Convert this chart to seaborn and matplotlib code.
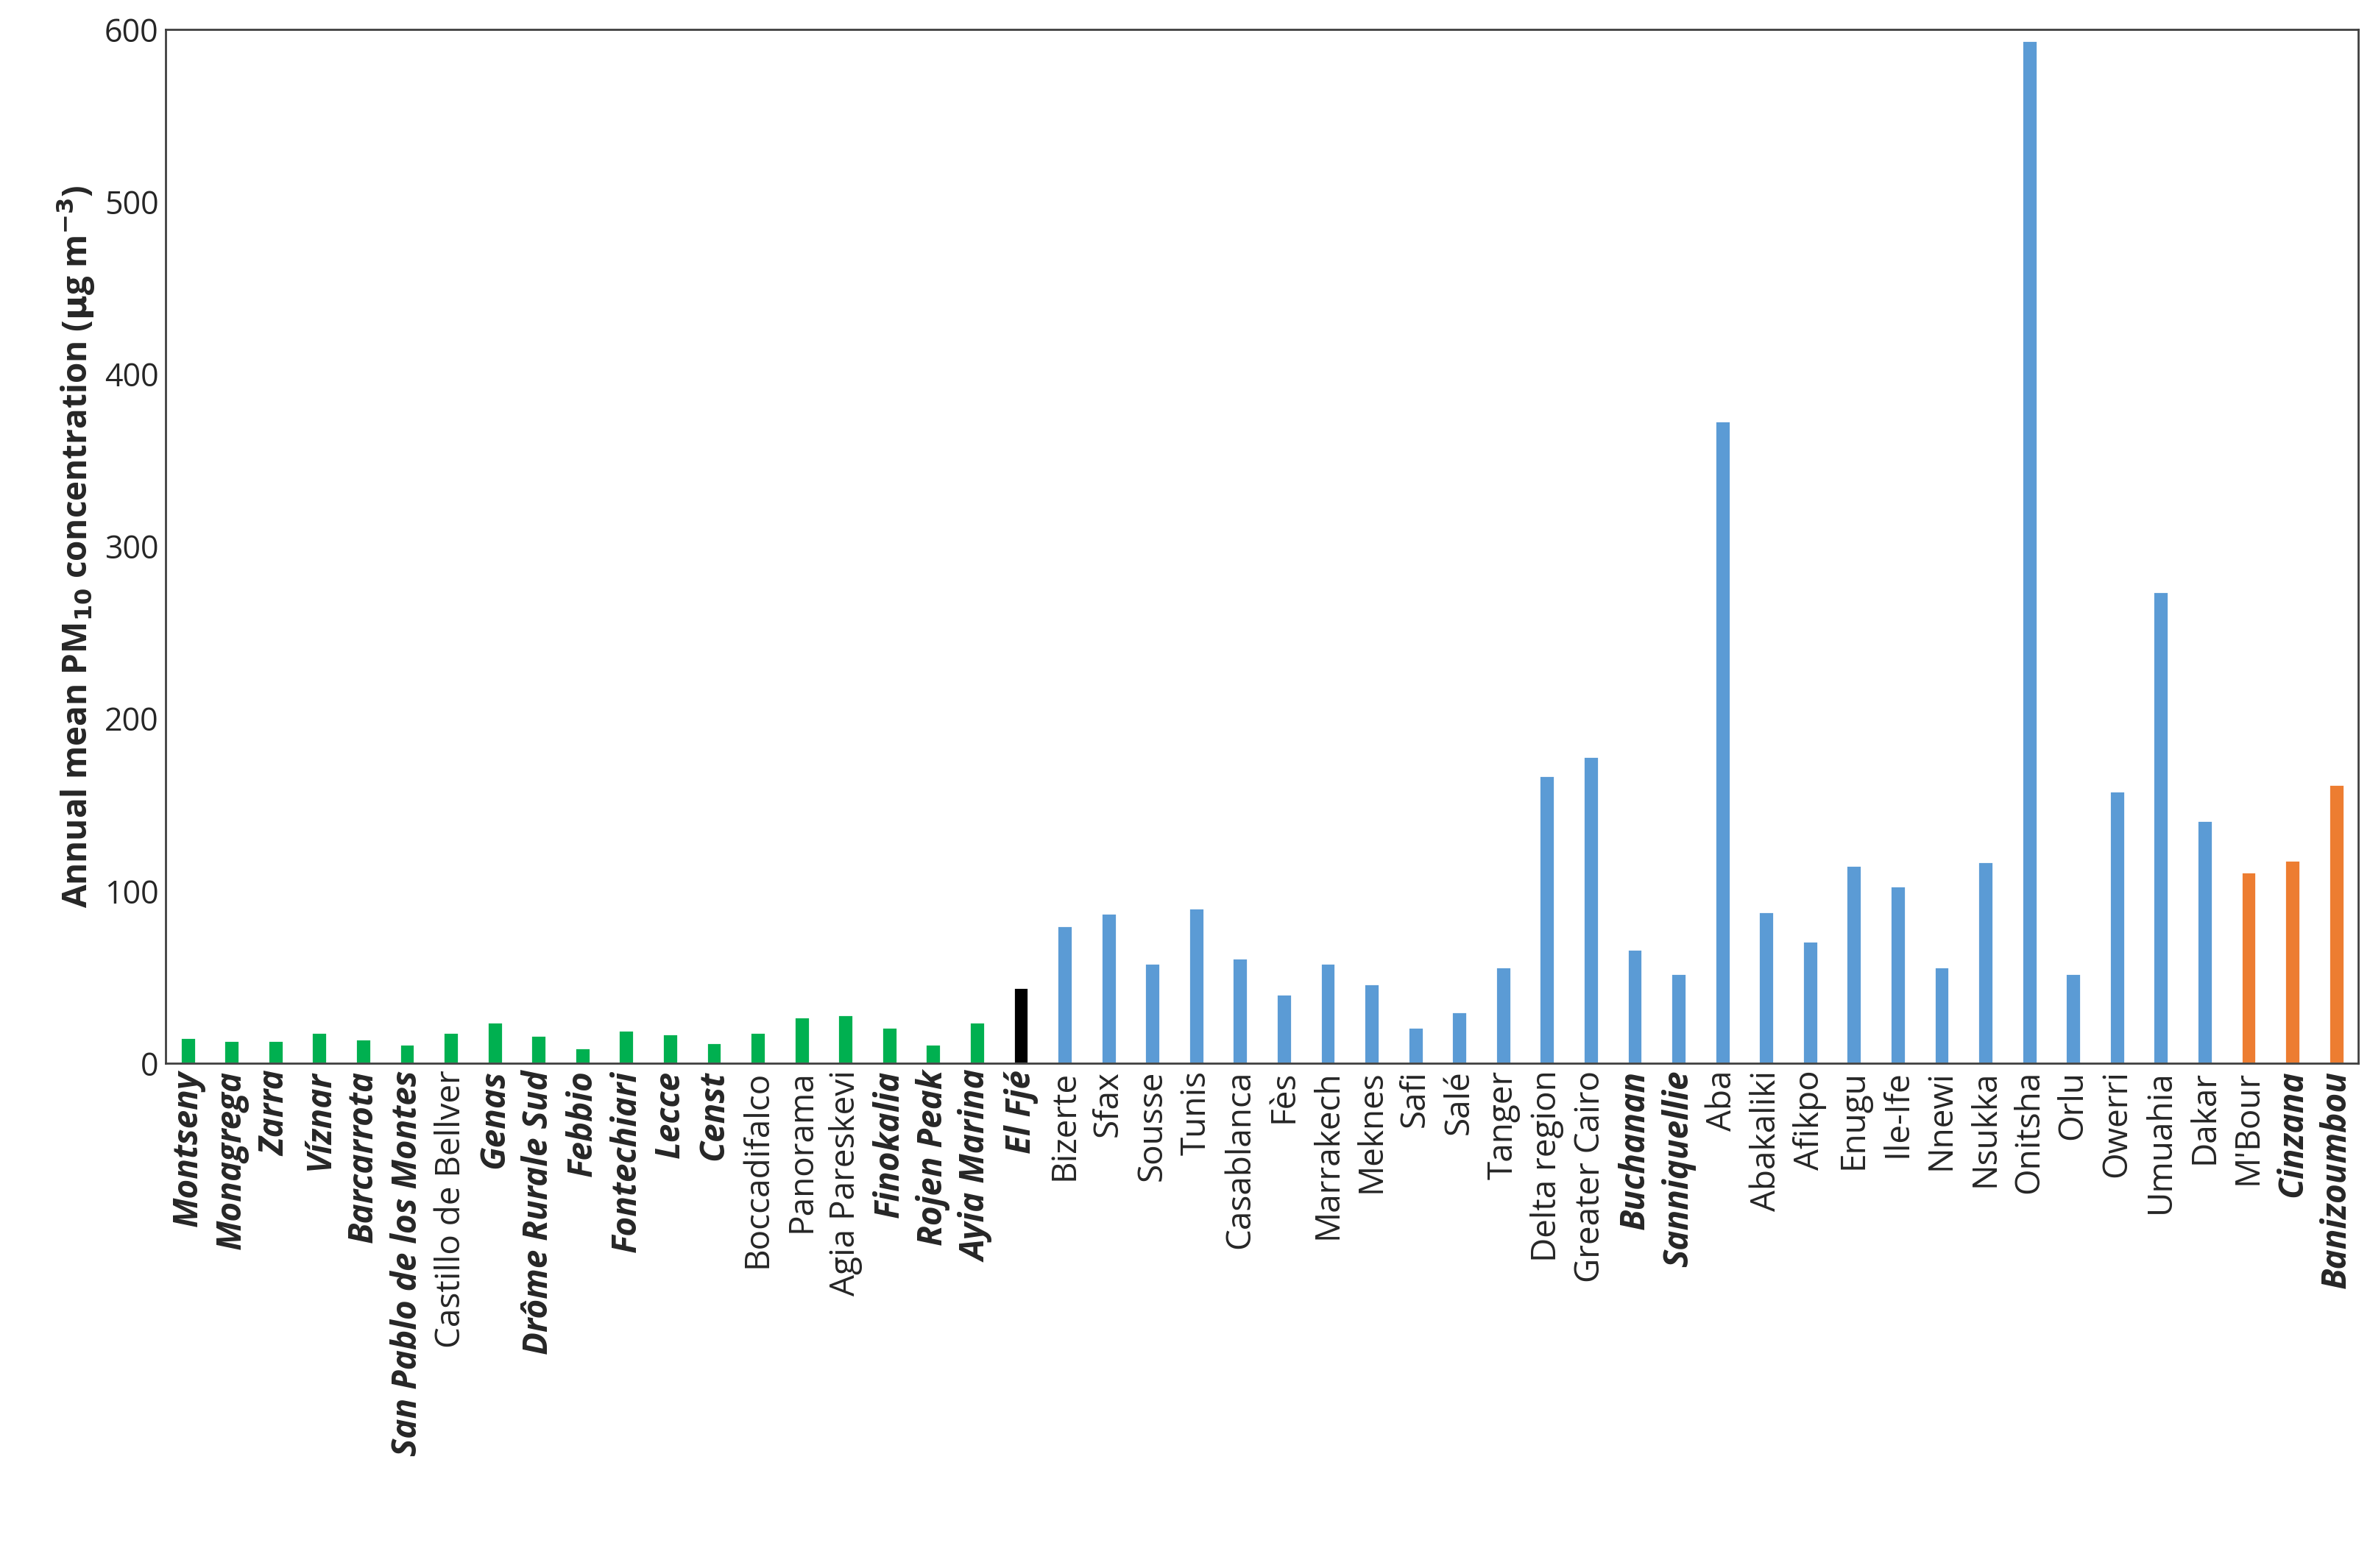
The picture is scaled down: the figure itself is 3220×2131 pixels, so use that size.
import pandas as pd
import matplotlib
matplotlib.use("Agg")
import matplotlib.pyplot as plt
import seaborn as sns

sites = ["Montseny", "Monagrega", "Zarra", "Víznar", "Barcarrota", "San Pablo de los Montes",
         "Castillo de Bellver", "Genas", "Drôme Rurale Sud", "Febbio", "Fontechiari", "Lecce",
         "Censt", "Boccadifalco", "Panorama", "Agia Pareskevi", "Finokalia", "Rojen Peak",
         "Ayia Marina", "El Fjé", "Bizerte", "Sfax", "Sousse", "Tunis", "Casablanca", "Fès",
         "Marrakech", "Meknes", "Safi", "Salé", "Tanger", "Delta region", "Greater Cairo",
         "Buchanan", "Sanniquellie", "Aba", "Abakaliki", "Afikpo", "Enugu", "Ile-Ife", "Nnewi",
         "Nsukka", "Onitsha", "Orlu", "Owerri", "Umuahia", "Dakar", "M'Bour", "Cinzana",
         "Banizoumbou"]
pm10 = [15, 13, 13, 18, 14, 11, 18, 24, 16, 9, 19, 17, 12, 18, 27, 28, 21, 11, 24, 44,
        80, 87, 58, 90, 61, 40, 58, 46, 21, 30, 56, 167, 178, 66, 52, 373, 88, 71, 115, 103,
        56, 117, 594, 52, 158, 274, 141, 111, 118, 162]
region = ["europe"] * 19 + ["elfje"] + ["africa"] * 27 + ["sahel"] * 3
bold_sites = ["Montseny", "Monagrega", "Zarra", "Víznar", "Barcarrota", "San Pablo de los Montes",
              "Genas", "Drôme Rurale Sud", "Febbio", "Fontechiari", "Lecce", "Censt",
              "Finokalia", "Rojen Peak", "Ayia Marina", "El Fjé", "Buchanan", "Sanniquellie",
              "Cinzana", "Banizoumbou"]

df = pd.DataFrame({"site": sites, "pm10": pm10, "region": region})
palette = {"europe": "#00B050", "elfje": "#000000", "africa": "#5B9BD5", "sahel": "#ED7D31"}

sns.set_style("white")
plt.rcParams["font.family"] = ["Open Sans", "DejaVu Sans"]

fig = plt.figure(figsize=(16.1, 10.655), dpi=200)
ax = fig.add_axes([0.070, 0.322, 0.925, 0.659])
sns.barplot(data=df, x="site", y="pm10", hue="region", palette=palette, dodge=False,
            width=0.35, saturation=1, legend=False, ax=ax)

ax.set_ylim(0, 600)
ax.set_xlim(-0.5, len(sites) - 0.5)
ax.set_yticks(range(0, 601, 100))
ax.tick_params(axis="y", labelsize=15.5, length=0)
ax.tick_params(axis="x", labelsize=16.5, length=0, rotation=90)
for lbl in ax.get_xticklabels():
    if lbl.get_text() in bold_sites:
        lbl.set_fontweight("bold")
        lbl.set_fontstyle("italic")
ax.set_xlabel("")
ax.set_ylabel(r"Annual mean PM$_{\mathbf{10}}$ concentration ($\mathbf{\mu}$g m$^{\mathbf{-3}}$)",
              fontsize=16.5, fontweight="bold", labelpad=4)
for s in ax.spines.values():
    s.set_color("#404040")
    s.set_linewidth(1.0)

fig.savefig("out.png", dpi=200)
